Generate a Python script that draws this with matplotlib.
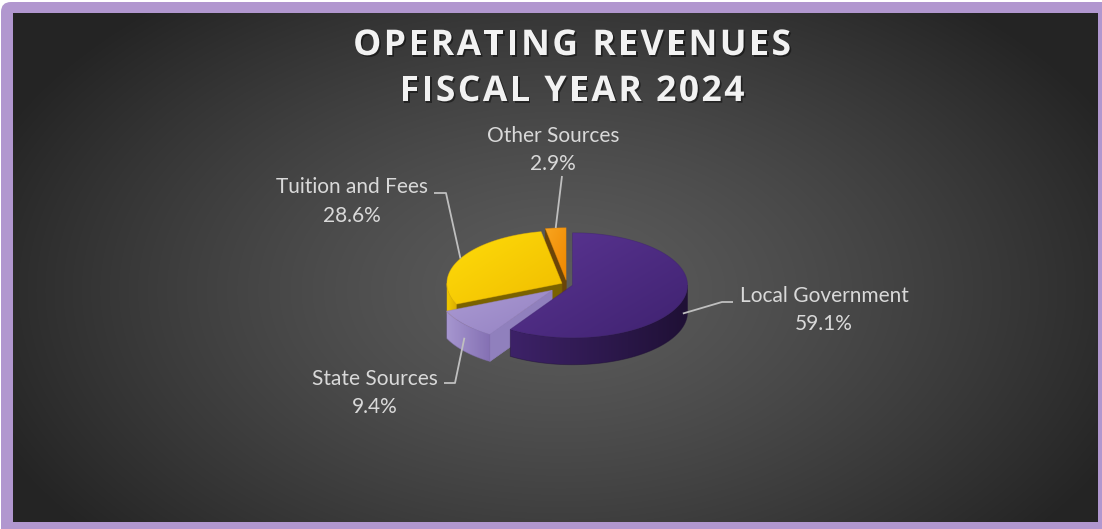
import numpy as np
import matplotlib

matplotlib.use("Agg")
import matplotlib.pyplot as plt
import matplotlib.patheffects as pe
from matplotlib.colors import LinearSegmentedColormap
from matplotlib.font_manager import FontProperties
from matplotlib.patches import FancyBboxPatch, Polygon

W, H = 1102, 529

title = "OPERATING REVENUES\nFISCAL YEAR 2024"
labels = ["Local Government", "State Sources", "Tuition and Fees", "Other Sources"]
shares = [59.1, 9.4, 28.6, 2.9]

# --- styling ----------------------------------------------------------------
# top face gradient, outer wall gradient, cut (radial) face colour per slice
TOP = [("#5b3593", "#3f2270"), ("#ab9ad3", "#9482c2"),
       ("#ffdc0a", "#f0bd00"), ("#f9a51f", "#ee8800")]
WALL = [("#3d2268", "#1f1035"), ("#a696cf", "#8470b3"),
        ("#f2c900", "#d9ad00"), ("#b86800", "#9a5500")]
FACE = ["#2c1850", "#9080bd", "#7a6200", "#6a4508"]
EXPLODE = [0.05, 0.17, 0.05, 0.08]   # per-slice pull-out, fraction of radius
DRAW_ORDER = [3, 2, 1, 0]            # back to front

CX, CY = 567, 284.5                  # pie centre (pixels, y down)
RX, RY, DEPTH = 115, 52.5, 27

# label layout: (name x, name baseline, pct baseline), elbow points of leader
LABEL_POS = [(824, 302, 330), (375, 385, 413), (352, 193, 222), (553, 142, 170)]
LEADER = [[(733, 302), (722, 302)],
          [(444, 383), (455, 383)],
          [(434, 193), (446, 193)],
          [(562, 176)]]
TEXT_C = "#d9d9d9"
LINE_C = "#bfbfbf"
TITLE_FONT = FontProperties(family="Open Sans", weight="bold", size=25.5)
TITLE_TRACK = 2.6                    # extra pixels between title letters
# ----------------------------------------------------------------------------


def rim(cx, cy, t, dz=0.0):
    r = np.radians(t)
    return np.column_stack([cx + RX * np.cos(r), cy - RY * np.sin(r) + dz])


def shade(ax, verts, c0, c1, z, horizontal=False):
    poly = Polygon(verts, closed=True, facecolor="none", edgecolor="none", zorder=z)
    ax.add_patch(poly)
    x0, y0 = verts.min(axis=0)
    x1, y1 = verts.max(axis=0)
    gx, gy = np.meshgrid(np.linspace(0, 1, 80), np.linspace(0, 1, 80))
    t = gx if horizontal else (gx + gy) / 2
    cmap = LinearSegmentedColormap.from_list("g", [c0, c1])
    im = ax.imshow(t, extent=(x0, x1, y1, y0), cmap=cmap, vmin=0, vmax=1,
                   zorder=z, interpolation="bilinear", aspect="auto")
    im.set_clip_path(poly)
    # thin outline softens the clipped edge
    ax.add_patch(Polygon(verts, closed=True, facecolor="none", edgecolor=c1,
                         lw=0.6, alpha=0.5, zorder=z))


def wall_poly(cx, cy, s, e):
    ts = np.linspace(s, e, 60)
    top = rim(cx, cy, ts)
    bot = rim(cx, cy, ts[::-1], DEPTH)
    return np.vstack([top, bot])


def face_poly(cx, cy, t):
    p = rim(cx, cy, [t])[0]
    return np.array([[cx, cy], p, p + [0, DEPTH], [cx, cy + DEPTH]])


def tracked_text(ax, renderer, xc, yb, s, track, **kw):
    # letter-spaced line: place each glyph by its advance plus tracking
    adv = [renderer.get_text_width_height_descent(ch, TITLE_FONT, ismath=False)[0]
           for ch in s]
    total = sum(adv) + track * (len(s) - 1)
    x = xc - total / 2
    for ch, w in zip(s, adv):
        if ch != " ":
            ax.text(x, yb, ch, ha="left", va="baseline", fontproperties=TITLE_FONT, **kw)
        x += w + track


fig = plt.figure(figsize=(W / 100, H / 100), dpi=100)
fig.patch.set_facecolor("white")
ax = fig.add_axes([0, 0, 1, 1])
ax.set_xlim(0, W)
ax.set_ylim(H, 0)

# purple frame and dark radial-gradient panel
ax.add_patch(FancyBboxPatch((1, 2), W + 10, H + 10,
                            boxstyle="round,pad=0,rounding_size=10",
                            facecolor="#b197cf", edgecolor="none", zorder=0))
gx, gy = np.meshgrid(np.arange(13, 1098), np.arange(13, 522))
r = np.sqrt(((gx - 560) / 620.0) ** 2 + ((gy - 290) / 380.0) ** 2)
level = (92 - 56 * np.clip(r, 0, 1) ** 1.3) / 255.0
bg = np.dstack([level, level, level])
ax.imshow(bg, extent=(13, 1098, 522, 13), zorder=0.5, aspect="auto",
          interpolation="bilinear")

# slice angles: start at 12 o'clock, clockwise
vals = np.array(shares)
cum = np.concatenate([[0], np.cumsum(vals)]) / vals.sum() * 360
hi = 90 - cum[:-1]
lo = 90 - cum[1:]
mid = (hi + lo) / 2

centres = []
for m, e in zip(mid, EXPLODE):
    rm = np.radians(m)
    centres.append((CX + e * RX * np.cos(rm), CY - e * RY * np.sin(rm)))

z = 2
for i in DRAW_ORDER:
    cx, cy = centres[i]
    a, b = lo[i], hi[i]
    # cut faces that turn towards the viewer
    if np.cos(np.radians(a)) > 1e-6:
        ax.add_patch(Polygon(face_poly(cx, cy, a), closed=True,
                             facecolor=FACE[i], edgecolor=FACE[i], lw=0.5, zorder=z))
        z += 1
    if np.cos(np.radians(b)) < -1e-6:
        ax.add_patch(Polygon(face_poly(cx, cy, b), closed=True,
                             facecolor=FACE[i], edgecolor=FACE[i], lw=0.5, zorder=z))
        z += 1
    # front part of the outer wall
    for k in range(-2, 2):
        s, e = max(a, 180 + 360 * k), min(b, 360 + 360 * k)
        if s < e:
            shade(ax, wall_poly(cx, cy, s, e), WALL[i][0], WALL[i][1], z,
                  horizontal=True)
            z += 1
    ts = np.linspace(a, b, 120)
    top = np.vstack([[cx, cy], rim(cx, cy, ts)])
    shade(ax, top, TOP[i][0], TOP[i][1], z)
    z += 1

# labels with leader lines
for i, name in enumerate(labels):
    x, yb1, yb2 = LABEL_POS[i]
    ax.text(x, yb1, name, ha="center", va="baseline", color=TEXT_C,
            fontsize=15, family="Lato", zorder=50)
    ax.text(x, yb2, f"{shares[i]:.1f}%", ha="center", va="baseline",
            color=TEXT_C, fontsize=15, family="Lato", zorder=50)
    cx, cy = centres[i]
    front = np.sin(np.radians(mid[i])) < 0
    end = rim(cx, cy, [mid[i]], DEPTH / 2 if front else 0)[0]
    pts = np.array(LEADER[i] + [tuple(end)])
    ax.plot(pts[:, 0], pts[:, 1], color=LINE_C, lw=1.3, zorder=50,
            solid_capstyle="butt")

renderer = fig.canvas.get_renderer()
shadow = [pe.SimplePatchShadow(offset=(1.2, -1.2), shadow_rgbFace="black", alpha=0.45),
          pe.Normal()]
for line, yb in zip(title.split("\n"), (55, 101)):
    tracked_text(ax, renderer, 572, yb, line, TITLE_TRACK, color="#f2f2f2",
                 zorder=60, path_effects=shadow)

ax.set_xlim(0, W)
ax.set_ylim(H, 0)
ax.axis("off")
fig.savefig("out.png", dpi=100, facecolor=fig.get_facecolor())
